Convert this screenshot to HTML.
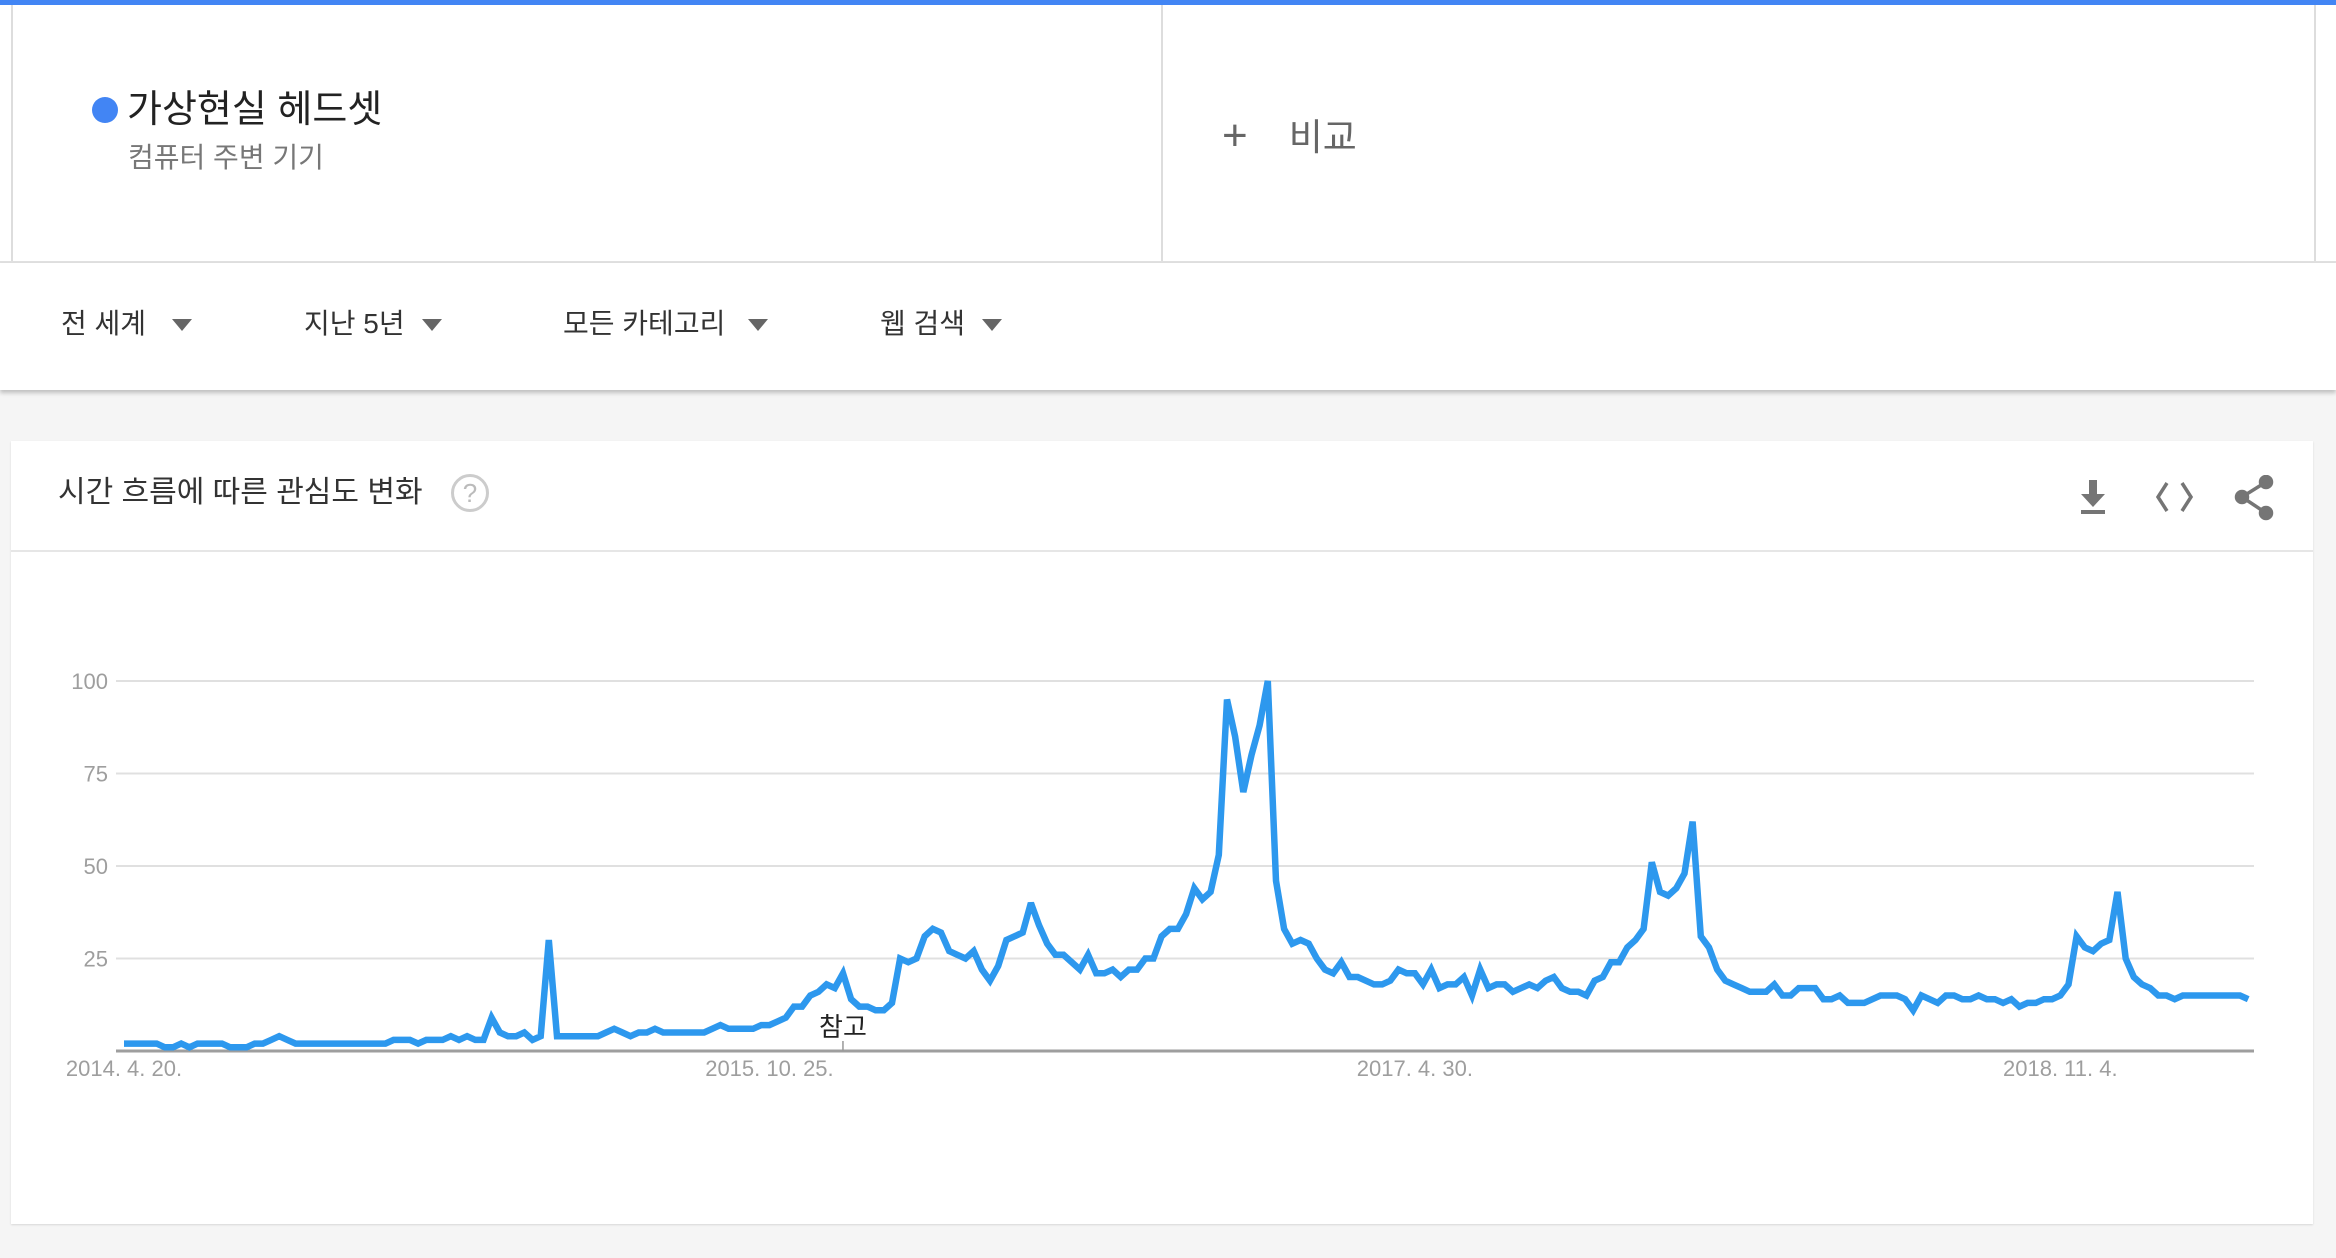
<!DOCTYPE html>
<html><head><meta charset="utf-8">
<style>
body{margin:0;width:2336px;height:1258px;background:#f5f5f5;font-family:"Liberation Sans","Noto Sans CJK KR",sans-serif;position:relative;overflow:hidden}
.abs{position:absolute}
.tri{position:absolute;width:0;height:0;border-left:10px solid transparent;border-right:10px solid transparent;border-top:12px solid #666}
</style></head><body>
<div class="abs" style="left:0;top:0;width:2336px;height:5px;background:#4285f4"></div>
<div class="abs" style="left:0;top:5px;width:2336px;height:256px;background:#fff;border-bottom:2px solid #e0e0e0"></div>
<div class="abs" style="left:11px;top:5px;width:1149px;height:256px;border-left:2px solid #ddd;border-right:2px solid #ddd;background:#fff"></div>
<div class="abs" style="left:1161px;top:5px;width:1151px;height:256px;border-left:2px solid #ddd;border-right:2px solid #ddd;background:#fff"></div>
<div class="abs" style="left:92px;top:97px;width:26px;height:26px;border-radius:50%;background:#4285f4"></div>
<div class="abs" style="left:127px;top:87px;font-size:38px;color:#222;line-height:46px">가상현실 헤드셋</div>
<div class="abs" style="left:128px;top:141px;font-size:28px;color:#777;line-height:34px">컴퓨터 주변 기기</div>
<div class="abs" style="left:1222px;top:114px;font-size:37px;color:#666;line-height:44px"><span style="font-size:44px;margin-right:41px">+</span>비교</div>

<div class="abs" style="left:0;top:263px;width:2336px;height:127px;background:#fff;box-shadow:0 3px 4px rgba(0,0,0,0.22)"></div>
<div class="abs" style="left:61px;top:306px;font-size:28px;color:#333;line-height:36px">전 세계</div>
<div class="tri" style="left:172px;top:319px"></div>
<div class="abs" style="left:304px;top:306px;font-size:28px;color:#333;line-height:36px">지난 5년</div>
<div class="tri" style="left:422px;top:319px"></div>
<div class="abs" style="left:563px;top:306px;font-size:28px;color:#333;line-height:36px">모든 카테고리</div>
<div class="tri" style="left:748px;top:319px"></div>
<div class="abs" style="left:880px;top:306px;font-size:28px;color:#333;line-height:36px">웹 검색</div>
<div class="tri" style="left:982px;top:319px"></div>

<div class="abs" style="left:11px;top:441px;width:2302px;height:783px;background:#fff;box-shadow:0 1px 2px rgba(0,0,0,0.12)"></div>
<div class="abs" style="left:11px;top:550px;width:2302px;height:2px;background:#e6e6e6"></div>
<div class="abs" style="left:58px;top:474px;font-size:30px;color:#333;line-height:38px">시간 흐름에 따른 관심도 변화</div>
<div class="abs" style="left:451px;top:474px;width:32px;height:32px;border:3px solid #ccc;border-radius:50%;color:#bbb;font-size:26px;line-height:32px;text-align:center">?</div>
<svg class="abs" style="left:2070px;top:475px" width="230" height="50">
  <g fill="#757575"><rect x="19" y="5" width="8" height="16"/><polygon points="11,19 35,19 23,32"/><rect x="11" y="35" width="24" height="4"/></g>
  <g fill="none" stroke="#757575" stroke-width="3.5"><polyline points="97,8 88,22 97,36"/><polyline points="112,8 121,22 112,36"/></g>
  <g fill="#757575" stroke="#757575" stroke-width="3.5"><circle cx="196" cy="7" r="5.5"/><circle cx="172" cy="22" r="5.5"/><circle cx="196" cy="38" r="5.5"/><line x1="196" y1="7" x2="172" y2="22"/><line x1="172" y1="22" x2="196" y2="38"/></g>
</svg>

<svg class="abs" id="chart" style="left:0;top:0" width="2336" height="1258"></svg>
<script>
const yTicks=[0,25,50,75,100];
const yTickLabels=["","25","50","75","100"];
const xTickIdx=[0,79,158,237];
const xTickLabels=["2014. 4. 20.","2015. 10. 25.","2017. 4. 30.","2018. 11. 4."];
const noteIdx=[88];
const noteLabels=["참고"];
const values=[
2,2,2,2,2,1,1,2,1,2,2,2,2,1,1,1,2,2,3,4,3,2,2,2,2,2,2,2,2,2,
2,2,2,3,3,3,2,3,3,3,4,3,4,3,3,9,5,4,4,5,3,4,30,4,4,4,4,4,4,5,
6,5,4,5,5,6,5,5,5,5,5,5,6,7,6,6,6,6,7,7,8,9,12,12,15,16,18,17,21,14,
12,12,11,11,13,25,24,25,31,33,32,27,26,25,27,22,19,23,30,31,32,40,34,29,26,26,24,22,26,21,
21,22,20,22,22,25,25,31,33,33,37,44,41,43,53,95,85,70,80,88,100,46,33,29,30,29,25,22,21,24,20,
20,19,18,18,19,22,21,21,18,22,17,18,18,20,15,22,17,18,18,16,17,18,17,19,20,17,16,16,15,19,20,
24,24,28,30,33,51,43,42,44,48,62,31,28,22,19,18,17,16,16,16,18,15,15,17,17,17,14,14,15,13,
13,13,14,15,15,15,14,11,15,14,13,15,15,14,14,15,14,14,13,14,12,13,13,14,14,15,18,31,28,27,
29,30,43,25,20,18,17,15,15,14,15,15,15,15,15,15,15,15,14];
const svg=document.getElementById('chart');
const NS='http://www.w3.org/2000/svg';
const X0=124,STEP=8.17,Y0=1051,Y100=681,GL=116,GR=2254;
function xs(i){return X0+STEP*i;}
function ys(v){return Y0+(Y100-Y0)*v/100;}
function mk(t,a){const e=document.createElementNS(NS,t);for(const k in a)e.setAttribute(k,a[k]);svg.appendChild(e);return e;}
yTicks.forEach((t,k)=>{
  const l=mk('line',{x1:GL,x2:GR,y1:ys(t),y2:ys(t),stroke:t===0?'#9e9e9e':'#e0e0e0','stroke-width':t===0?3:2});
  
  
  if(yTickLabels[k]){
    const tx=mk('text',{x:108,y:ys(t)+8,'text-anchor':'end','font-size':22,fill:'#9e9e9e','font-family':'Liberation Sans, sans-serif'});
    tx.textContent=yTickLabels[k];
    
    
  }
});
xTickIdx.forEach((i,k)=>{
  const tx=mk('text',{x:xs(i),y:1076,'text-anchor':'middle','font-size':22,fill:'#9e9e9e','font-family':'Liberation Sans, sans-serif'});
  tx.textContent=xTickLabels[k];
  
  
});
noteIdx.forEach((i,k)=>{
  const l=mk('line',{x1:xs(i),x2:xs(i),y1:1041,y2:1051,stroke:'#999','stroke-width':1.5});
  
  
  const tx=mk('text',{x:xs(i),y:1036,'text-anchor':'middle','font-size':26,fill:'#222','font-family':'Liberation Sans, Noto Sans CJK KR, sans-serif'});
  tx.textContent=noteLabels[k];
  
  
});
const pts=values.map((v,i)=>xs(i).toFixed(1)+','+ys(v).toFixed(1)).join(' ');
const line=mk('polyline',{points:pts,fill:'none',stroke:'#2d98ee','stroke-width':6.5,'stroke-linejoin':'miter','stroke-miterlimit':3});


</script>
</body></html>
